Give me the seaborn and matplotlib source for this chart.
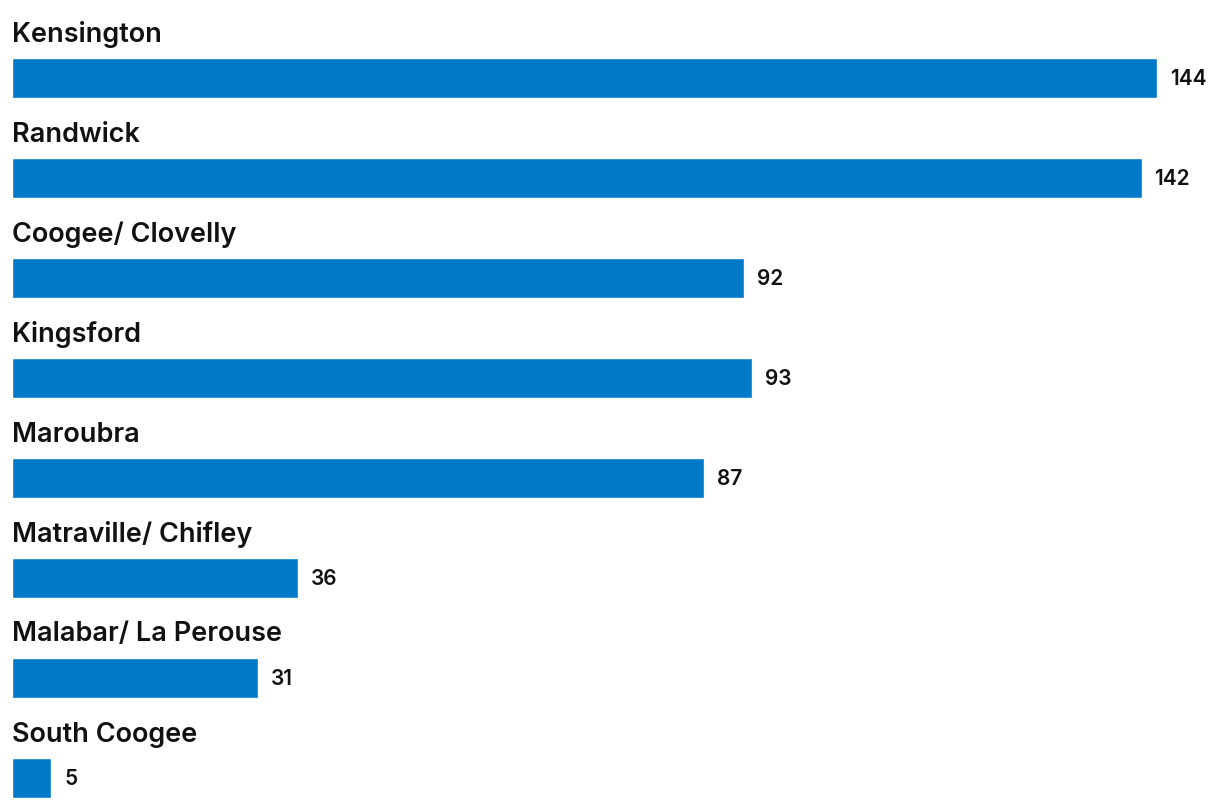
# Horizontal bar chart - counts by suburb

import pandas as pd
import matplotlib.pyplot as plt
import seaborn as sns

suburbs = ['Kensington', 'Randwick', 'Coogee/ Clovelly', 'Kingsford', 'Maroubra',
           'Matraville/ Chifley', 'Malabar/ La Perouse', 'South Coogee']
counts = [144, 142, 92, 93, 87, 36, 31, 5]

df = pd.DataFrame({'suburb': suburbs, 'count': counts})

sns.set_style('white')
plt.rcParams['font.family'] = ['Inter', 'DejaVu Sans']

fig = plt.figure(figsize=(12.2, 8.08), dpi=100)
ax = fig.add_axes([0, 0, 1, 1])

sns.barplot(data=df, x='count', y='suburb', orient='h', color='#0079C8',
            width=0.4, saturation=1, ax=ax)

# pixel-ish layout: 0 at x=12px, 144 at x=1158px; bars 100px apart
ax.set_xlim(-11.5 / 7.958, 1208.5 / 7.958)
ax.set_ylim(7.30, -0.78)

for i, (name, val) in enumerate(zip(suburbs, counts)):
    ax.text(0, i - 0.365, name, fontsize=19.5, fontweight='semibold',
            color='#111111', va='baseline', ha='left')
    ax.annotate(str(val), xy=(val, i), xytext=(13, -1), textcoords='offset pixels',
                fontsize=15, fontweight='semibold', color='#111111',
                va='center', ha='left')

ax.axis('off')
plt.savefig('out.png', dpi=100)
